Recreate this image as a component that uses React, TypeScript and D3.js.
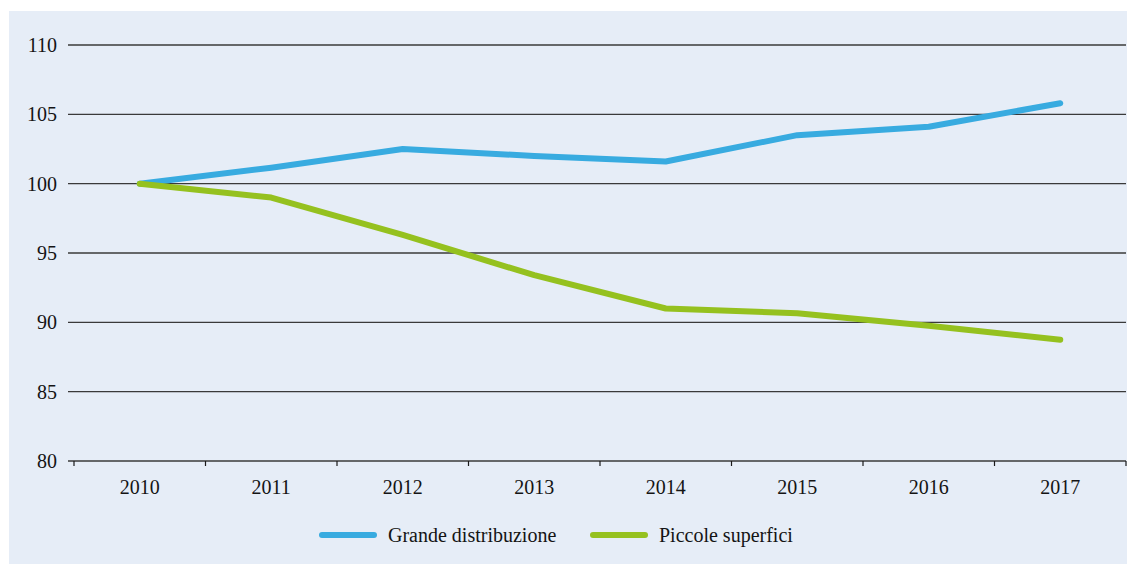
import React from "react";
import * as d3 from "d3";

const years = ["2010", "2011", "2012", "2013", "2014", "2015", "2016", "2017"];
const grande = [100, 101.15, 102.5, 102.0, 101.6, 103.5, 104.1, 105.8];
const piccole = [100, 99.0, 96.3, 93.4, 91.0, 90.65, 89.75, 88.75];
const yTicks = [80, 85, 90, 95, 100, 105, 110];
const seriesNames = ["Grande distribuzione", "Piccole superfici"];
const seriesColors = ["#38abe0", "#95c11f"];

const W = 1128;
const H = 564;
const FONT = "'Liberation Serif', 'DejaVu Serif', serif";

export default function App() {
  const x = d3.scaleBand<string>().domain(years).range([74, 1126]);
  const y = d3.scaleLinear().domain([80, 110]).range([461, 45]);
  const line = d3
    .line<number>()
    .x((_, i) => (x(years[i]) as number) + x.bandwidth() / 2)
    .y((d) => y(d));
  const series = [grande, piccole];
  const boundaries = years.map((yr) => x(yr) as number).concat([x.range()[1]]);
  const legendX = [322, 593];

  return (
    <svg
      width={W}
      height={H}
      style={{ position: "absolute", left: 0, top: 0, display: "block" }}
      fontFamily={FONT}
    >
      <rect x={0} y={0} width={W} height={H} fill="#ffffff" />
      <rect x={9} y={11} width={1118} height={H - 11} fill="#e6edf7" />
      {yTicks.map((t) => (
        <g key={t}>
          <line x1={68} x2={1126} y1={y(t)} y2={y(t)} stroke="#3a3a3a" strokeWidth={1.3} />
          <text x={57} y={y(t)} dy="0.35em" textAnchor="end" fontSize={20} fill="#141414">
            {t}
          </text>
        </g>
      ))}
      {boundaries.map((b, i) => (
        <line key={i} x1={b} x2={b} y1={y(80)} y2={y(80) + 5} stroke="#1a1a1a" strokeWidth={1.2} />
      ))}
      {years.map((yr) => (
        <text
          key={yr}
          x={(x(yr) as number) + x.bandwidth() / 2}
          y={494}
          textAnchor="middle"
          fontSize={20}
          fill="#141414"
        >
          {yr}
        </text>
      ))}
      {series.map((s, i) => (
        <path
          key={i}
          d={line(s) as string}
          fill="none"
          stroke={seriesColors[i]}
          strokeWidth={6}
          strokeLinecap="round"
          strokeLinejoin="round"
        />
      ))}
      {seriesNames.map((n, i) => (
        <g key={n}>
          <line
            x1={legendX[i]}
            x2={legendX[i] + 52}
            y1={535}
            y2={535}
            stroke={seriesColors[i]}
            strokeWidth={6}
            strokeLinecap="round"
          />
          <text x={legendX[i] + 66} y={535} dy="0.35em" fontSize={20} fill="#141414">
            {n}
          </text>
        </g>
      ))}
    </svg>
  );
}
